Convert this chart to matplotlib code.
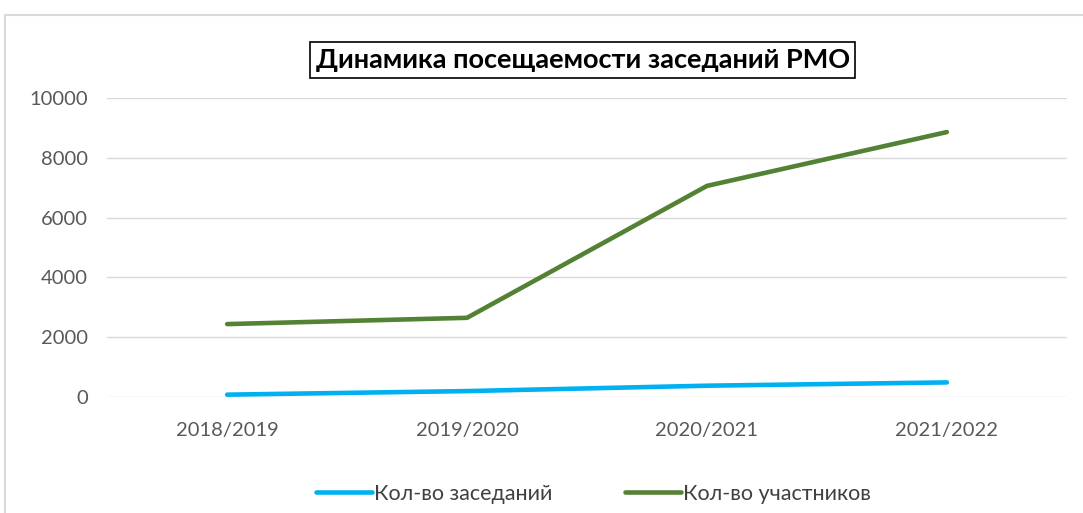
import matplotlib
matplotlib.use("Agg")
from matplotlib import pyplot as plt
from matplotlib.patches import Rectangle

years = ['2018/2019', '2019/2020', '2020/2021', '2021/2022']
meetings = [80, 200, 380, 490]
participants = [2440, 2650, 7060, 8860]
yticks = [0, 2000, 4000, 6000, 8000, 10000]

plt.rcParams['font.family'] = ['Lato', 'DejaVu Sans']

fig = plt.figure(figsize=(10.83, 5.13), dpi=100)
ax = fig.add_axes([0.099, 0.226, 0.886, 0.583])

x = range(len(years))
ax.plot(x, meetings, color='#00b0f0', linewidth=3.3, solid_capstyle='round', label='Кол-во заседаний')
ax.plot(x, participants, color='#548235', linewidth=3.3, solid_capstyle='round', label='Кол-во участников')

ax.set_xlim(-0.5, 3.5)
ax.set_ylim(0, 10000)
ax.set_yticks(yticks)
ax.set_xticks(list(x))
ax.set_xticklabels(years)
ax.grid(axis='y', color='#d9d9d9', linewidth=1.0)
ax.set_axisbelow(True)
for s in ax.spines.values():
    s.set_visible(False)
ax.tick_params(length=0, labelsize=14.5, labelcolor='#595959')
ax.tick_params(axis='y', pad=14)
ax.tick_params(axis='x', pad=18)

fig.text(0.538, 0.883, 'Динамика посещаемости заседаний РМО', ha='center', va='center',
         fontsize=19.5, fontweight='bold',
         bbox=dict(facecolor='white', edgecolor='black', linewidth=1.2, pad=4))

leg = fig.legend(loc='center', bbox_to_anchor=(0.548, 0.037), ncol=2, frameon=False,
                 fontsize=15.5, handlelength=2.6, handletextpad=0.1, columnspacing=3.4)
for t in leg.get_texts():
    t.set_color('#404040')

fig.patches.append(Rectangle((0.005, -0.05), 1.1, 1.02, transform=fig.transFigure,
                             fill=False, edgecolor='#d9d9d9', linewidth=1.5))

fig.savefig('out.png', dpi=100)
